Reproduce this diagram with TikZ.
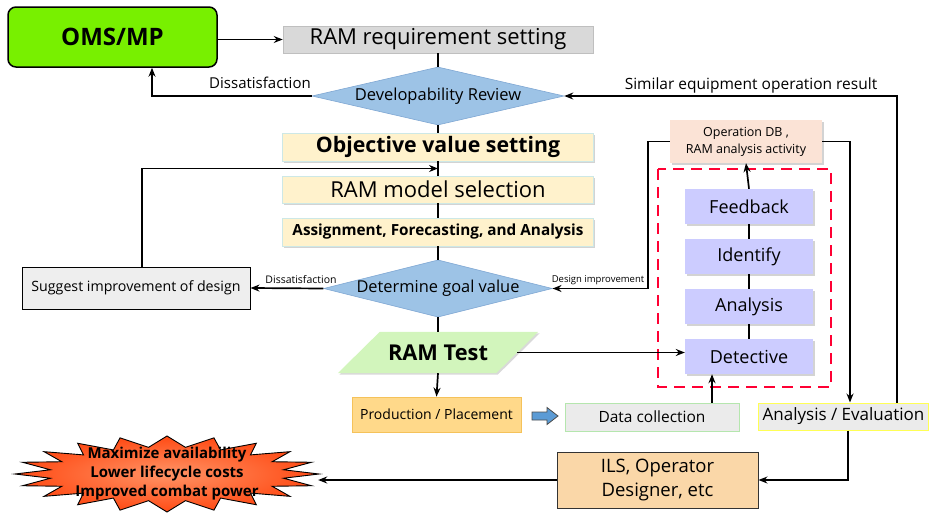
\documentclass[tikz,border=0pt]{standalone}
\usepackage{fontspec}
\setmainfont{Open Sans}
\usetikzlibrary{arrows.meta,shapes.geometric,shapes.arrows,shadows,calc}
\definecolor{omsgreen}{HTML}{78F000}
\definecolor{reqgray}{HTML}{D9D9D9}
\definecolor{reqborder}{HTML}{BFBFBF}
\definecolor{diafill}{HTML}{9DC3E6}
\definecolor{diaborder}{HTML}{7FA7D3}
\definecolor{beige}{HTML}{FFF2CC}
\definecolor{beigeborder}{HTML}{CDE8E6}
\definecolor{peach}{HTML}{FBE3D6}
\definecolor{lilac}{HTML}{CCCCFF}
\definecolor{testgreen}{HTML}{D2F5BC}
\definecolor{prodfill}{HTML}{FFD98A}
\definecolor{prodborder}{HTML}{F5C25A}
\definecolor{lightgray}{HTML}{EBEBEB}
\definecolor{dcborder}{HTML}{B5E6AE}
\definecolor{aeborder}{HTML}{FFFF55}
\definecolor{ilsfill}{HTML}{FAD7A8}
\definecolor{sugfill}{HTML}{EEEEEE}
\definecolor{dashred}{HTML}{FF0033}
\definecolor{blockblue}{HTML}{5B9BD5}
\definecolor{starin}{HTML}{FF9466}
\definecolor{starout}{HTML}{FF4A14}
\tikzset{
  box/.style={rectangle, inner sep=0pt, align=center},
  conn/.style={line width=1.7pt, draw=black},
  arr/.style={conn, -{Stealth[length=9pt,width=7pt,inset=3pt]}},
  beigebox/.style={box, fill=beige, draw=beigeborder, line width=0.6pt, minimum width=311, minimum height=28,
     drop shadow={opacity=0.35, shadow xshift=1.5pt, shadow yshift=-1.5pt}},
  lilacbox/.style={box, fill=lilac, minimum width=128, minimum height=35, font=\fontsize{18}{21}\selectfont,
     drop shadow={opacity=0.35, shadow xshift=1.5pt, shadow yshift=-1.5pt}},
  decision/.style={diamond, fill=diafill, draw=diaborder, line width=0.6pt, inner sep=0pt},
  lbl/.style={inner sep=0pt},
}
\begin{document}
\begin{tikzpicture}[x=1pt,y=-1pt]
\useasboundingbox (0,0) rectangle (929,514);

% top part
\node[box, fill=omsgreen, draw=black, line width=1.5pt, rounded corners=8pt, minimum width=209, minimum height=60,
  font=\fontsize{24}{28}\selectfont\bfseries]
  (oms) at (112.5,37) {OMS/MP};
\node[box, fill=reqgray, draw=reqborder, line width=0.6pt, minimum width=310, minimum height=27,
  font=\fontsize{22}{25}\selectfont]
  (req) at (438,39.5) {RAM requirement setting};
\node[decision, shape aspect=4.3, minimum width=252, minimum height=58, font=\fontsize{16.5}{19}\selectfont]
  (dr) at (438,96) {Developability Review};
\node[beigebox, font=\fontsize{21.3}{24}\selectfont\bfseries] (obj) at (438,147) {Objective value setting};
\node[beigebox, minimum height=27, font=\fontsize{22}{25}\selectfont] (model) at (438,189.5) {RAM model selection};
\node[beigebox, font=\fontsize{15.3}{18}\selectfont\bfseries] (assign) at (438,232) {Assignment, Forecasting, and Analysis};
\node[decision, shape aspect=4, minimum width=222, minimum height=55, font=\fontsize{16.4}{19}\selectfont]
  (dg) at (438,288.5) {Determine goal value};
\node[box, fill=sugfill, draw=black, line width=1pt, minimum width=228, minimum height=42, font=\fontsize{14.2}{17}\selectfont]
  (sug) at (136,288) {Suggest improvement of design};

% right cluster
\node[box, fill=peach, minimum width=152, minimum height=43, font=\fontsize{12.5}{17}\selectfont,
  drop shadow={opacity=0.35, shadow xshift=1.5pt, shadow yshift=-1.5pt}]
  (opdb) at (746,141.5) {Operation DB ,\\ RAM analysis activity};
\draw[dashred, line width=2.6pt, dash pattern=on 11pt off 7pt] (658,169) rectangle (831,387);
\node[lilacbox] (fb) at (749,206.5) {Feedback};
\node[lilacbox] (ide) at (749,256.5) {Identify};
\node[lilacbox] (ana) at (749,306.5) {Analysis};
\node[lilacbox] (det) at (749,356.5) {Detective};

% RAM test parallelogram
\node[box, minimum width=158, minimum height=41] (ramtest) at (438,352.5) {};
\path[fill=testgreen, drop shadow={opacity=0.3, shadow xshift=1.5pt, shadow yshift=-1.5pt}]
  ([xshift=21pt]ramtest.north west) -- ([xshift=21pt]ramtest.north east)
  -- ([xshift=-21pt]ramtest.south east) -- ([xshift=-21pt]ramtest.south west) -- cycle;
\node[lbl, font=\fontsize{21.8}{25}\selectfont\bfseries] at (ramtest.center) {RAM Test};

% bottom row
\node[box, fill=prodfill, draw=prodborder, line width=0.8pt, minimum width=169, minimum height=35,
  font=\fontsize{14}{17}\selectfont]
  (prod) at (436.5,414.5) {Production / Placement};
\coordinate (blk) at (545,416);
\path[fill=blockblue, draw=black!70, line width=0.8pt, shift={(blk)}]
  (-13,-4) -- (2,-4) -- (2,-8.5) -- (13,0) -- (2,8.5) -- (2,4) -- (-13,4) -- cycle;
\node[box, fill=lightgray, draw=dcborder, line width=0.8pt, minimum width=174, minimum height=28,
  font=\fontsize{15.5}{18}\selectfont]
  (dc) at (652,417) {Data collection};
\node[box, fill=lightgray, draw=aeborder, line width=1pt, minimum width=170, minimum height=27,
  font=\fontsize{17}{20}\selectfont]
  (ae) at (843.5,416.5) {Analysis / Evaluation};
\node[box, fill=ilsfill, draw=black!80, line width=1pt, minimum width=201, minimum height=56,
  font=\fontsize{18.5}{24}\selectfont]
  (ils) at (657.5,480) {ILS, Operator\\Designer, etc};

% starburst
\node[box, minimum width=302, minimum height=60] (star) at (167,474) {};
\path[draw=black, line width=0.9pt, inner color=starin, outer color=starout, shift={(star.center)}]
  (0:152 and 38) \foreach \a in {0,18,...,342} { -- (\a+9:118 and 27) -- (\a+18:152 and 38) } -- cycle;
\node[lbl, align=center, font=\fontsize{15}{19}\selectfont\bfseries] at (star.center)
  {Maximize availability\\Lower lifecycle costs\\Improved combat power};

% connectors
\draw[arr] (req.west -| oms.east) -- (req.west);
\draw[conn] (req.south) -- (dr.north);
\draw[arr] (dr.west) -| ([xshift=39.5pt]oms.south);
\node[lbl, font=\fontsize{15}{17}\selectfont] at (260,83) {Dissatisfaction};
\draw[conn] (dr.south) -- (obj.north);
\draw[conn] (obj.south) -- (model.north);
\draw[conn] (model.south) -- (assign.north);
\draw[conn] (assign.south) -- (dg.north);
\draw[conn] (dg.south) -- (ramtest.north);
\coordinate (fbin) at ($(obj.south)!0.5!(model.north)$);
\draw[arr] ([xshift=6pt]sug.north) |- (fbin);
\draw[arr] (dg.west) -- (sug.east);
\node[lbl, font=\fontsize{10.5}{12}\selectfont] at (301,280) {Dissatisfaction};
\draw[arr] (opdb.west) -- ++(-22,0) |- (dg.east);
\node[lbl, font=\fontsize{9.5}{11}\selectfont] at (598,280) {Design improvement};
\draw[arr] (opdb.east) -| ([xshift=6.5pt]ae.north);
\draw[arr] ([xshift=53.5pt]ae.north) |- (dr.east);
\node[lbl, font=\fontsize{15.5}{18}\selectfont] at (751,85) {Similar equipment operation result};
\draw[conn] (det.north) -- (ana.south);
\draw[conn] (ana.north) -- (ide.south);
\draw[conn] (ide.north) -- (fb.south);
\draw[arr] (fb.north) -- (opdb.south);
\draw[arr] (ramtest.east) -- (ramtest.east -| det.west);
\draw[arr] (ramtest.south) -- (prod.north);
\draw[arr] ([xshift=60pt]dc.north) -- ([xshift=60pt]dc.north |- det.south);
\draw[arr] ([xshift=4.5pt]ae.south) |- (ils.east);
\draw[arr] (ils.west) -- (ils.west -| star.east);
\end{tikzpicture}
\end{document}
